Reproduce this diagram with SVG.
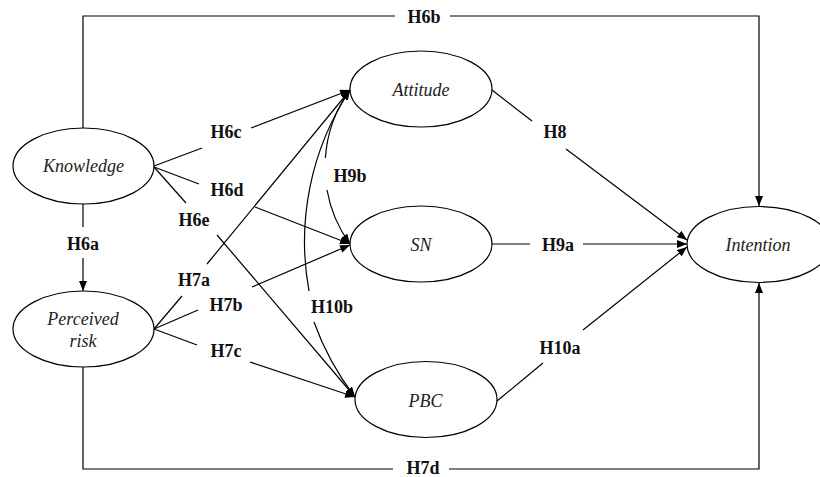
<svg xmlns="http://www.w3.org/2000/svg" width="820" height="477" viewBox="0 0 820 477">
<style>
.node ellipse{fill:#fff;stroke:#000;stroke-width:1.2}
.nl{font-family:"Liberation Serif","Times New Roman",serif;font-style:italic;font-size:18px;fill:#222;text-anchor:middle}
.hl{font-family:"Liberation Serif","Times New Roman",serif;font-weight:bold;font-size:18px;fill:#111;text-anchor:middle}
.c path{fill:none;stroke:#000;stroke-width:1.2}
.c path.a{marker-end:url(#ah)}
.c path.s{marker-start:url(#as)}
</style>
<defs>
<marker id="ah" viewBox="0 0 10 8" refX="10" refY="4" markerWidth="10" markerHeight="8" markerUnits="userSpaceOnUse" orient="auto">
<path d="M0,0 L10,4 L0,8 Z" fill="#000"/>
</marker>
<marker id="as" viewBox="0 0 10 8" refX="0" refY="4" markerWidth="10" markerHeight="8" markerUnits="userSpaceOnUse" orient="auto">
<path d="M10,0 L0,4 L10,8 Z" fill="#000"/>
</marker>
</defs>
<rect width="820" height="477" fill="#fff"/>
<g class="c" id="connectors">
<path class="a" d="M83,128 V16 H395 M450,16 H759 V206"/>
<path class="a" d="M83,367 V469 H393 M449,469 H759 V283"/>
<path d="M83,204 V227"/><path class="a" d="M83,258 V291"/>
<path d="M154,166 L202,148"/><path class="a" d="M251,128 L350,90"/>
<path d="M154,167 L199,184"/><path class="a" d="M255,207 L350,244"/>
<path d="M154,167 L186,203"/><path class="a" d="M217,235 L355,397"/>
<path d="M154,329 L182,296"/><path class="a" d="M207,264 L350,90"/>
<path d="M154,329 L198,310"/><path class="a" d="M252,287 L350,245"/>
<path d="M154,329 L197,345"/><path class="a" d="M250,362 L355,397"/>
<path d="M492,90 L532,121"/><path class="a" d="M566,149 L687,240"/>
<path d="M492,244 L530,244"/><path class="a" d="M583,244 L687,244"/>
<path d="M497,401 L543,363"/><path class="a" d="M583,330 L687,247"/>
<path class="s" d="M350,90 A129.5,129.5 0 0 0 325.4,158"/>
<path class="a" d="M327,190 A129.5,129.5 0 0 0 350,244"/>
<path class="s" d="M350,90 A275,275 0 0 0 309,291"/>
<path class="a" d="M314,322 A275,275 0 0 0 355,397"/>
</g>
<g id="labels">
<text class="hl" x="424" y="23">H6b</text>
<text class="hl" x="423" y="474">H7d</text>
<text class="hl" x="83" y="250">H6a</text>
<text class="hl" x="226" y="138">H6c</text>
<text class="hl" x="227" y="196">H6d</text>
<text class="hl" x="194" y="226">H6e</text>
<text class="hl" x="194" y="286">H7a</text>
<text class="hl" x="226" y="311">H7b</text>
<text class="hl" x="226" y="357">H7c</text>
<text class="hl" x="350" y="182">H9b</text>
<text class="hl" x="332" y="313">H10b</text>
<text class="hl" x="555" y="138">H8</text>
<text class="hl" x="558" y="251">H9a</text>
<text class="hl" x="560" y="354">H10a</text>
</g>
<g class="node" id="knowledge"><ellipse cx="83.5" cy="166" rx="70.5" ry="38"/><text class="nl" x="83.5" y="172">Knowledge</text></g>
<g class="node" id="perceived-risk"><ellipse cx="83.5" cy="329" rx="70.5" ry="38"/><text class="nl" x="83" y="325">Perceived</text><text class="nl" x="83" y="347">risk</text></g>
<g class="node" id="attitude"><ellipse cx="421" cy="89" rx="71" ry="38"/><text class="nl" x="421" y="96">Attitude</text></g>
<g class="node" id="sn"><ellipse cx="421" cy="244" rx="71" ry="38"/><text class="nl" x="421" y="251">SN</text></g>
<g class="node" id="pbc"><ellipse cx="426" cy="399.5" rx="71" ry="38"/><text class="nl" x="425.5" y="406.5">PBC</text></g>
<g class="node" id="intention"><ellipse cx="759" cy="244.5" rx="72" ry="38"/><text class="nl" x="758" y="251">Intention</text></g>
</svg>
